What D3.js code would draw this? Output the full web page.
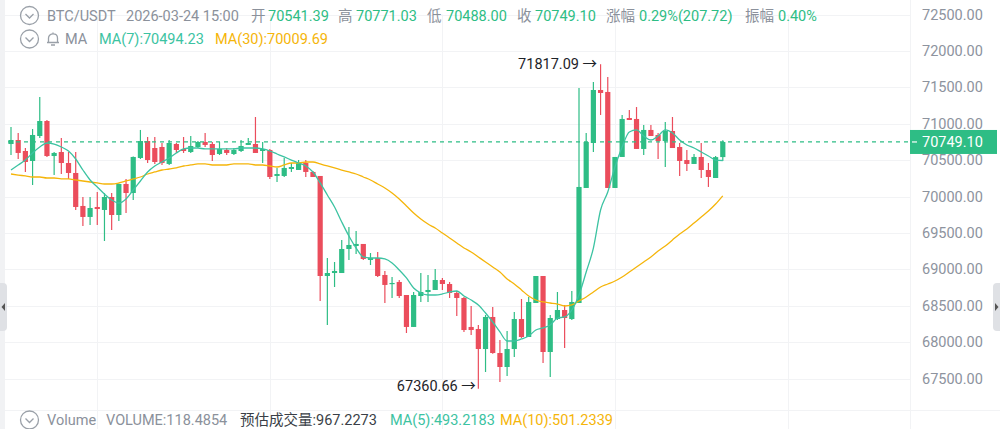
<html>
<head>
    <meta charset="utf-8">
    <title>BTC/USDT 1H</title>
    <style type="text/css">
        body { margin: 0; background: #fff; }
        svg { display: block; font-family: Roboto, "Noto Sans CJK SC", sans-serif; }
        .grid { stroke: #f2f3f5; stroke-width: 1; }
        .axis text { fill: #8d939e; font-size: 14.5px; }
    </style>
</head>
<body>
<script src="https://d3js.org/d3.v7.min.js"></script>
<script>

// candles (1h)
var open = [70721, 70776, 70625, 70488, 70831, 71037, 70556, 70611, 70460, 70323,
    69870, 69719, 69856, 69815, 69993, 69746, 70172, 70048, 70529, 70762,
    70666, 70680, 70447, 70721, 70653, 70611, 70680, 70749, 70721, 70584,
    70639, 70584, 70625, 70708, 70721, 70625, 70639, 70282, 70282, 70378,
    70364, 70460, 70337, 70282, 68908, 68949, 68949, 69279, 69320, 69348,
    69128, 69155, 68922, 68798, 68826, 68647, 68208, 68633, 68688, 68716,
    68853, 68798, 68675, 68606, 68208, 68180, 67905, 68345, 67850, 67658,
    67905, 68317, 68070, 68537, 68908, 67864, 68317, 68441, 68317, 68537,
    70117, 70735, 71463, 71436, 70117, 70543, 71078, 71065, 70653, 70914,
    70845, 70762, 70900, 70680, 70501, 70447, 70543, 70364, 70254, 70541.39];

var high = [70955, 70872, 70666, 70927, 71367, 71051, 70611, 70804, 70611, 70611,
    69993, 69993, 70062, 70048, 70048, 70180, 70241, 70550, 70914, 70817,
    70817, 70735, 70776, 70735, 70817, 70831, 70762, 70872, 70749, 70749,
    70666, 70666, 70776, 70804, 71092, 70749, 70653, 70392, 70529, 70460,
    70501, 70501, 70350, 70282, 69155, 69100, 69403, 69581, 69526, 69348,
    69224, 69238, 68977, 68894, 68853, 68647, 68689, 68949, 68922, 69004,
    68881, 68826, 68702, 68620, 68496, 68235, 68372, 68482, 68029, 68153,
    68414, 68592, 68620, 68908, 68908, 68372, 68688, 68510, 68702, 71490,
    70872, 71573, 71817.09, 71642, 70543, 71120, 71188, 71229, 70982, 70982,
    70872, 71023, 71092, 70735, 70639, 70584, 70735, 70460, 70556, 70771.03];

var low = [70570, 70515, 70337, 70158, 70804, 70543, 70295, 70309, 70240, 69815,
    69595, 69609, 69609, 69389, 69540, 69664, 69773, 69952, 70515, 70460,
    70446, 70433, 70433, 70598, 70598, 70598, 70666, 70680, 70488, 70570,
    70570, 70570, 70611, 70708, 70598, 70460, 70241, 70199, 70268, 70337,
    70364, 70268, 70268, 68565, 68235, 68757, 68949, 69128, 69210, 69128,
    69059, 68894, 68537, 68606, 68606, 68125, 68208, 68551, 68551, 68716,
    68716, 68606, 68358, 68139, 68098, 67360.66, 67589, 67840, 67452, 67534,
    67795, 68057, 68070, 68537, 67713, 67521, 68304, 67919, 68304, 68537,
    70117, 70611, 71120, 70117, 70117, 70543, 71051, 70653, 70570, 70831,
    70515, 70405, 70666, 70282, 70350, 70447, 70254, 70131, 70254, 70488.00];

var close = [70776, 70598, 70474, 70845, 71037, 70556, 70598, 70460, 70323, 69856,
    69719, 69842, 69828, 69993, 69746, 70172, 70048, 70543, 70762, 70501,
    70474, 70460, 70735, 70639, 70625, 70694, 70749, 70708, 70570, 70653,
    70598, 70639, 70694, 70735, 70598, 70653, 70268, 70309, 70392, 70405,
    70460, 70337, 70268, 68908, 68949, 68977, 69279, 69334, 69348, 69142,
    69155, 68908, 68785, 68812, 68633, 68208, 68647, 68688, 68716, 68853,
    68798, 68675, 68606, 68166, 68166, 67905, 68345, 67850, 67658, 67905,
    68317, 68070, 68551, 68908, 67864, 68331, 68441, 68331, 68551, 70131,
    70749, 71463, 71422, 70117, 70543, 71065, 71051, 70653, 70914, 70831,
    70762, 70900, 70666, 70488, 70447, 70543, 70364, 70268, 70541, 70749.10];

// moving averages as drawn (include candles before the visible window)
var ma7 = [70364, 70433, 70501, 70598, 70680, 70735, 70721, 70680, 70625, 70515,
    70364, 70227, 70131, 70034, 69952, 69911, 69966, 70089, 70213, 70337,
    70419, 70474, 70529, 70598, 70653, 70666, 70666, 70653, 70653, 70653,
    70653, 70653, 70666, 70666, 70666, 70653, 70625, 70584, 70543, 70501,
    70460, 70419, 70337, 70186, 70021, 69856, 69650, 69457, 69292, 69169,
    69155, 69155, 69142, 69087, 68990, 68881, 68743, 68675, 68647, 68647,
    68661, 68688, 68702, 68633, 68578, 68510, 68400, 68276, 68139, 68015,
    68015, 68043, 68084, 68166, 68194, 68235, 68331, 68345, 68441, 68647,
    68963, 69292, 69815, 70062, 70405, 70680, 70886, 70914, 70831, 70776,
    70831, 70914, 70872, 70776, 70708, 70666, 70611, 70556, 70501, 70494.23];

var ma30 = [70309, 70295, 70282, 70268, 70268, 70254, 70254, 70241, 70241, 70227,
    70213, 70199, 70186, 70172, 70172, 70186, 70213, 70241, 70268, 70309,
    70337, 70364, 70378, 70392, 70419, 70433, 70447, 70447, 70433, 70433,
    70433, 70447, 70447, 70447, 70433, 70433, 70419, 70405, 70433, 70460,
    70460, 70474, 70474, 70447, 70419, 70392, 70364, 70337, 70309, 70268,
    70227, 70172, 70117, 70048, 69966, 69870, 69773, 69691, 69622, 69567,
    69499, 69430, 69361, 69293, 69238, 69169, 69100, 69032, 68963, 68867,
    68798, 68716, 68633, 68578, 68551, 68537, 68523, 68496, 68510, 68565,
    68620, 68688, 68757, 68798, 68839, 68894, 68963, 69032, 69100, 69169,
    69251, 69320, 69403, 69485, 69554, 69636, 69718, 69801, 69897, 70009.69];

var yTicks = [72500, 72000, 71500, 71000, 70500, 70000, 69500, 69000, 68500, 68000, 67500];
var dayIdx = [12, 36, 60, 84, 108];

var up = "#2ebd85", down = "#eb4d5c", ma7Color = "#3cc3a2", ma30Color = "#f5b50a";
var gray = "#8b919b";

var W = 1000, H = 429, plotL = 5, plotR = 910;

var svg = d3.select("body").append("svg")
    .attr("width", W)
    .attr("height", H);

var x = d3.scaleLinear().domain([0, 99]).range([11, 722.8]);
var y = d3.scaleLinear().domain([67500, 72500]).range([378.5, 14.5]);
var step = x(1) - x(0);
var bodyW = 5.2;

var data = open.map(function(o, i){
    return {i: i, o: o, h: high[i], l: low[i], c: close[i]};
});

// left strip
svg.append("rect").attr("x", 0).attr("y", 0).attr("width", 5).attr("height", H).attr("fill", "#f1f2f4");

// grid
svg.selectAll(".hgrid").data(yTicks).enter().append("line")
    .attr("class", "grid")
    .attr("x1", plotL).attr("x2", plotR)
    .attr("y1", function(d){ return Math.round(y(d)) + 0.5; })
    .attr("y2", function(d){ return Math.round(y(d)) + 0.5; });

svg.selectAll(".vgrid").data(dayIdx).enter().append("line")
    .attr("class", "grid")
    .attr("x1", function(d){ return Math.round(x(d)) + 0.5; })
    .attr("x2", function(d){ return Math.round(x(d)) + 0.5; })
    .attr("y1", y(72500)).attr("y2", H);

svg.append("line").attr("class", "grid")
    .attr("x1", plotR + 0.5).attr("x2", plotR + 0.5).attr("y1", 0).attr("y2", H);
svg.append("line").attr("class", "grid")
    .attr("x1", plotL).attr("x2", W).attr("y1", 410.5).attr("y2", 410.5);

// y axis
var yAxis = svg.append("g")
    .attr("class", "axis")
    .attr("transform", "translate(" + plotR + ",0)")
    .call(d3.axisRight(y).tickValues(yTicks).tickSize(0).tickPadding(12).tickFormat(d3.format(".2f")));
yAxis.select(".domain").remove();
yAxis.selectAll("text").attr("font-family", "Roboto");

// candles
var candle = svg.append("g").selectAll("g").data(data).enter().append("g");

candle.append("line")
    .attr("x1", function(d){ return x(d.i); })
    .attr("x2", function(d){ return x(d.i); })
    .attr("y1", function(d){ return y(d.h); })
    .attr("y2", function(d){ return y(d.l); })
    .attr("stroke", function(d){ return d.c >= d.o ? up : down; })
    .attr("stroke-width", 1.2);

candle.append("rect")
    .attr("x", function(d){ return x(d.i) - bodyW / 2; })
    .attr("y", function(d){ return y(Math.max(d.o, d.c)); })
    .attr("width", bodyW)
    .attr("height", function(d){ return Math.max(1.2, Math.abs(y(d.o) - y(d.c))); })
    .attr("fill", function(d){ return d.c >= d.o ? up : down; });

// moving averages
function maLine(arr){
    return d3.line()
        .x(function(d, i){ return x(i); })
        .y(function(d){ return y(d); })
        .curve(d3.curveMonotoneX)(arr);
}
svg.append("path").attr("d", maLine(ma30)).attr("fill", "none").attr("stroke", ma30Color).attr("stroke-width", 1.3);
svg.append("path").attr("d", maLine(ma7)).attr("fill", "none").attr("stroke", ma7Color).attr("stroke-width", 1.3);

// last price line + tag
var last = close[close.length - 1];
svg.append("line")
    .attr("x1", plotL + 3).attr("x2", plotR)
    .attr("y1", y(last)).attr("y2", y(last))
    .attr("stroke", up).attr("stroke-width", 1.2)
    .attr("stroke-dasharray", "4,4");
svg.append("rect")
    .attr("x", plotR).attr("y", y(last) - 12)
    .attr("width", 87).attr("height", 24)
    .attr("fill", up);
svg.append("line")
    .attr("x1", plotR + 2).attr("x2", plotR + 7)
    .attr("y1", y(last)).attr("y2", y(last))
    .attr("stroke", "#fff").attr("stroke-width", 1.2);
svg.append("text")
    .attr("x", plotR + 12).attr("y", y(last)).attr("dy", "0.35em")
    .attr("fill", "#fff").style("font-size", "14.5px")
    .text(d3.format(".2f")(last));

// high / low markers
var hiIdx = d3.maxIndex(high), loIdx = d3.minIndex(low);
svg.append("text")
    .attr("x", x(hiIdx) - 3.5).attr("y", y(high[hiIdx])).attr("dy", "0.3em")
    .attr("text-anchor", "end").attr("fill", "#1e2329").style("font-size", "14.5px")
    .text(d3.format(".2f")(high[hiIdx]) + " \u2192");
svg.append("text")
    .attr("x", x(loIdx) - 2.5).attr("y", y(low[loIdx]) - 2).attr("dy", "0.3em")
    .attr("text-anchor", "end").attr("fill", "#1e2329").style("font-size", "14.5px")
    .text(d3.format(".2f")(low[loIdx]) + " \u2192");

// side handles
svg.append("rect").attr("x", -4).attr("y", 283).attr("width", 11).attr("height", 48).attr("rx", 4).attr("fill", "#dfe1e5");
svg.append("path").attr("d", "M5,303 L1.5,307 L5,311 Z").attr("fill", "#555");
svg.append("rect").attr("x", 993).attr("y", 283).attr("width", 11).attr("height", 48).attr("rx", 4).attr("fill", "#dfe1e5");
svg.append("path").attr("d", "M995,303 L998.5,307 L995,311 Z").attr("fill", "#555");

// header icons
function chevronIcon(cy){
    var g = svg.append("g").attr("transform", "translate(29.5," + cy + ")");
    g.append("circle").attr("r", 9).attr("fill", "none").attr("stroke", "#9aa0a8").attr("stroke-width", 1.3);
    g.append("path").attr("d", "M-4,-1.5 L0,2.5 L4,-1.5").attr("fill", "none").attr("stroke", "#9aa0a8").attr("stroke-width", 1.3);
}
chevronIcon(15.5);
chevronIcon(39);
chevronIcon(420);

var bell = svg.append("g").attr("transform", "translate(53,38.5)");
bell.append("path")
    .attr("d", "M-6,4 L6,4 M-4.5,4 L-4.5,-0.5 C-4.5,-6 4.5,-6 4.5,-0.5 L4.5,4 M-2,6.5 L2,6.5 M0,-6 L0,-4.5")
    .attr("fill", "none").attr("stroke", "#9aa0a8").attr("stroke-width", 1.3);

// header texts
function label(tx, ty, str, color){
    svg.append("text").attr("x", tx).attr("y", ty)
        .attr("fill", color).style("font-size", "14.5px").text(str);
}
var row1 = [
    [47, "BTC/USDT", gray], [126, "2026-03-24 15:00", gray],
    [251, "开", gray], [268, "70541.39", up],
    [338, "高", gray], [356, "70771.03", up],
    [427, "低", gray], [446, "70488.00", up],
    [517, "收", gray], [535, "70749.10", up],
    [606, "涨幅", gray], [639, "0.29%(207.72)", up],
    [745, "振幅", gray], [778, "0.40%", up]
];
row1.forEach(function(r){ label(r[0], 20.7, r[1], r[2]); });

label(65, 44, "MA", gray);
label(99, 44, "MA(7):70494.23", ma7Color);
label(215, 44, "MA(30):70009.69", ma30Color);

label(47, 425, "Volume", gray);
label(106, 425, "VOLUME:118.4854", gray);
label(240, 425, "预估成交量:967.2273", "#3a3f47");
label(390, 425, "MA(5):493.2183", ma7Color);
label(500, 425, "MA(10):501.2339", ma30Color);

</script>
</body>
</html>
